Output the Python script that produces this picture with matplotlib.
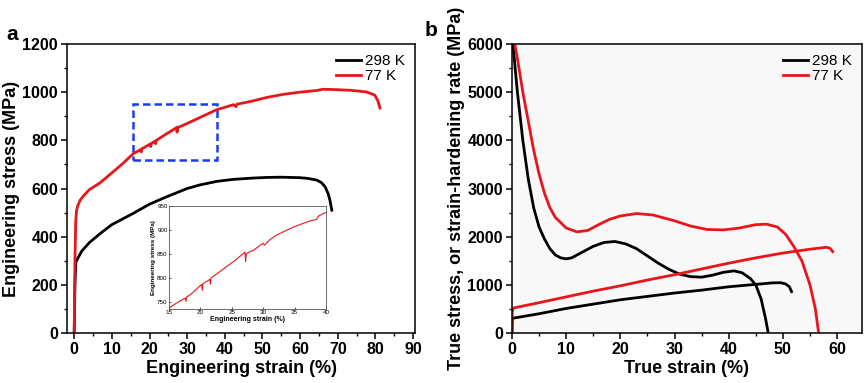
import matplotlib
matplotlib.use("Agg")
import matplotlib.pyplot as plt
from matplotlib.patches import Rectangle
from matplotlib.ticker import MultipleLocator

plt.rcParams['font.family'] = ['Liberation Sans', 'DejaVu Sans']

# ---------------- Panel a: engineering stress-strain ----------------
eng_strain_298 = [0, 0.2, 0.44, 2, 4, 6.9, 10, 15.7, 20, 24.6, 30, 33.4, 38, 42.3, 47, 51.1, 55,
                  59.9, 62, 64.4, 65.6, 66.6, 67.4, 67.9, 68.4]
eng_stress_298 = [0, 200, 295, 340, 375, 413, 450, 497, 535, 566, 600, 615, 630, 638, 643, 646, 647,
                  645, 642, 635, 625, 608, 580, 552, 510]

eng_strain_77 = [0, 0.2, 0.4, 0.6, 0.9, 1.6, 2.5, 4, 6.9, 10, 13, 15.7, 17.7, 17.8, 18, 20.2, 20.3,
                 20.5, 21.5, 21.6, 21.8, 24.6, 27.2, 27.3, 27.5, 30, 33.4, 37.8, 42.3, 43, 43.2, 47,
                 51.1, 55.5, 59.9, 64.4, 66, 68.8, 73.2, 77.6, 79.8, 80.6, 81.2]
eng_stress_77 = [0, 300, 460, 505, 527, 552, 570, 595, 624, 665, 705, 745, 762, 752, 765, 785, 774,
                 787, 797, 786, 800, 828, 853, 834, 853, 870, 895, 927, 948, 940, 950, 962,
                 978, 991, 1000, 1007, 1012, 1011, 1008, 1001, 988, 965, 934]

# inset (zoom of 77 K curve)
ins_strain = [15, 16.5, 17.6, 17.7, 17.8, 18.5, 20, 20.2, 20.3, 20.4, 21.3, 21.5, 21.6, 21.7,
              23, 24.2, 25.5, 27.1, 27.2, 27.3, 27.5, 28.5, 29.5, 30, 30.2, 31, 32.2, 33.5,
              34.8, 36, 37.5, 38.5, 38.8, 40]
ins_stress = [737, 750, 758, 751, 760, 766, 784, 786, 774, 788, 795, 797, 787, 800,
              812, 824, 836, 854, 834, 850, 852, 858, 868, 872, 868, 879, 890, 898,
              906, 912, 919, 922, 929, 937]

# ---------------- Panel b: true stress & strain-hardening rate ----------------
true_strain_298 = [0, 0.05, 0.3, 5, 10, 15, 20, 25, 30, 35, 40, 45, 48, 49.5, 50.5, 51.2, 51.6]
true_stress_298 = [0, 300, 310, 400, 510, 600, 690, 760, 830, 890, 960, 1010, 1040, 1045, 1020, 960, 860]

true_strain_77 = [0, 0.05, 0.3, 5, 10, 15, 20, 25, 30, 35, 40, 45, 50, 55, 58, 58.7, 59.2]
true_stress_77 = [0, 450, 520, 630, 750, 870, 980, 1100, 1210, 1330, 1450, 1560, 1660, 1740, 1780, 1760, 1690]

shr_strain_298 = [0.2, 0.5, 1, 2, 3, 4, 5, 6, 7, 8, 9, 10, 11, 13, 15, 17, 19, 21, 23, 25, 27, 29,
                  31, 33, 35, 37, 39, 41, 42.5, 44, 45, 46, 46.8, 47.3]
shr_rate_298 = [6000, 5600, 5000, 4000, 3200, 2600, 2200, 1950, 1750, 1620, 1560, 1540, 1560, 1680,
                1800, 1880, 1900, 1850, 1750, 1600, 1450, 1320, 1220, 1170, 1160, 1200, 1260, 1290,
                1250, 1130, 1000, 700, 300, 0]

shr_strain_77 = [0.5, 1, 2, 3, 4, 5, 6, 7, 8, 10, 12, 14, 16, 18, 20, 23, 26, 30, 33, 36, 39, 42,
                 45, 47, 49, 50.5, 52, 53.5, 55, 56, 56.6]
shr_rate_77 = [6000, 5700, 5000, 4400, 3800, 3300, 2900, 2600, 2400, 2180, 2100, 2130, 2250, 2360,
               2430, 2480, 2450, 2330, 2220, 2150, 2140, 2180, 2250, 2260, 2200, 2050, 1800, 1500,
               1000, 500, 0]

labels = ['298 K', '77 K']
colors = ['black', '#e8161b']

fig = plt.figure(figsize=(8.65, 3.83), dpi=100)

tick_fs = 11.5
lab_fs = 13

def style_axes(ax):
    ax.tick_params(which='both', direction='out', top=False, right=False)
    ax.tick_params(which='major', length=4, width=1.1, labelsize=tick_fs, pad=2.5)
    ax.tick_params(which='minor', length=2.5, width=1.0)
    for lab in ax.get_xticklabels() + ax.get_yticklabels():
        lab.set_fontweight('bold')
    for s in ax.spines.values():
        s.set_linewidth(1.1)

# Panel a
axa = fig.add_axes([0.0775, 0.1305, 0.4023, 0.7546])
axa.plot(eng_strain_298, eng_stress_298, color=colors[0], lw=2.0, label=labels[0])
axa.plot(eng_strain_77, eng_stress_77, color=colors[1], lw=2.0, label=labels[1])
axa.set_xlim(-1.9, 90.5)
axa.set_ylim(0, 1200)
axa.xaxis.set_major_locator(MultipleLocator(10))
axa.xaxis.set_minor_locator(MultipleLocator(5))
axa.yaxis.set_major_locator(MultipleLocator(200))
axa.yaxis.set_minor_locator(MultipleLocator(100))
style_axes(axa)
axa.set_xlabel('Engineering strain (%)', fontsize=lab_fs, fontweight='bold', labelpad=2)
axa.set_ylabel('Engineering stress (MPa)', fontsize=lab_fs, fontweight='bold', labelpad=2)
axa.add_patch(Rectangle((15.5, 720), 22.5, 232, fill=False, edgecolor='#1a3cf0',
                        lw=1.8, ls=(0, (3, 1.6))))
axa.legend(loc='upper right', frameon=False, fontsize=11, handlelength=1.6,
           handletextpad=0.3, labelspacing=0.1, borderaxespad=0.25)
fig.text(6 / 865, 1 - 44 / 383, 'a', fontsize=15, fontweight='bold', ha='left', va='bottom')

# Inset
axi = fig.add_axes([0.1954, 0.1932, 0.1815, 0.2689])
axi.plot(ins_strain, ins_stress, color=colors[1], lw=0.8)
axi.set_xlim(15, 40)
axi.set_ylim(735, 950)
axi.xaxis.set_major_locator(MultipleLocator(5))
axi.yaxis.set_major_locator(MultipleLocator(50))
axi.tick_params(which='both', direction='in', labelsize=4.5, length=1.5, width=0.5, pad=1,
                top=False, right=False)
for s in axi.spines.values():
    s.set_linewidth(0.6)
    s.set_edgecolor('#555555')
axi.set_xlabel('Engineering strain (%)', fontsize=5, fontweight='bold', labelpad=0.5)
axi.set_ylabel('Engineering stress (MPa)', fontsize=4.5, fontweight='bold', labelpad=1)

# Panel b
axb = fig.add_axes([0.5919, 0.1305, 0.4046, 0.7546])
axb.set_facecolor('#f8f8f8')
axb.plot(shr_strain_298, shr_rate_298, color=colors[0], lw=2.0, label=labels[0])
axb.plot(shr_strain_77, shr_rate_77, color=colors[1], lw=2.0, label=labels[1])
axb.plot(true_strain_298, true_stress_298, color=colors[0], lw=2.0)
axb.plot(true_strain_77, true_stress_77, color=colors[1], lw=2.0)
axb.set_xlim(0, 64.6)
axb.set_ylim(0, 6000)
axb.xaxis.set_major_locator(MultipleLocator(10))
axb.xaxis.set_minor_locator(MultipleLocator(5))
axb.yaxis.set_major_locator(MultipleLocator(1000))
axb.yaxis.set_minor_locator(MultipleLocator(500))
style_axes(axb)
axb.set_xlabel('True strain (%)', fontsize=lab_fs, fontweight='bold', labelpad=2)
axb.set_ylabel('True stress, or strain-hardening rate (MPa)', fontsize=lab_fs,
               fontweight='bold', labelpad=2)
axb.legend(loc='upper right', frameon=False, fontsize=11, handlelength=1.6,
           handletextpad=0.3, labelspacing=0.1, borderaxespad=0.25)
fig.text(425 / 865, 1 - 40 / 383, 'b', fontsize=15, fontweight='bold', ha='left', va='bottom')

fig.savefig('out.png', dpi=100)
